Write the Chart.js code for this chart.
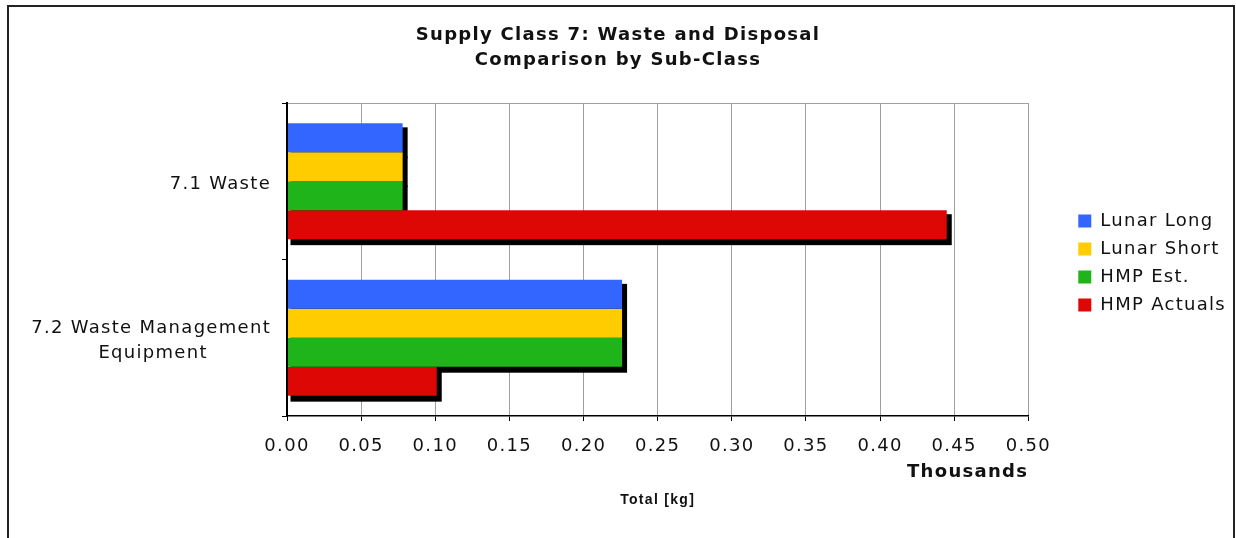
<!DOCTYPE html>
<html>
<head>
<meta charset="utf-8">
<script src="https://cdn.jsdelivr.net/npm/chart.js@4/dist/chart.umd.min.js"></script>
<style>
  html, body { margin:0; padding:0; background:#fff; overflow:hidden; }
  #frame { position:absolute; left:7px; top:5px; width:1224px; height:600px; border:2px solid #222; }
  #c { position:absolute; left:0; top:0; }
</style>
</head>
<body>
<div id="frame"></div>
<canvas id="c" width="1236" height="538"></canvas>
<script>
// ---- data ----
const categories = [['7.1 Waste'], ['7.2 Waste Management', 'Equipment']];
const seriesNames = ['Lunar Long', 'Lunar Short', 'HMP Est.', 'HMP Actuals'];
const lunarLong   = [0.078, 0.226];
const lunarShort  = [0.078, 0.226];
const hmpEst      = [0.078, 0.226];
const hmpActuals  = [0.445, 0.101];
const xTicks = [0, 0.05, 0.10, 0.15, 0.20, 0.25, 0.30, 0.35, 0.40, 0.45, 0.50];
const titleLines = ['Supply Class 7: Waste and Disposal', 'Comparison by Sub-Class'];
const xUnitsLabel = 'Thousands';
const xAxisTitle = 'Total [kg]';

const colors = ['#3366FF', '#FFCC00', '#1FB51A', '#DD0806'];
const LS = '1.3px';
const FAMILY = "'DejaVu Sans', Verdana, sans-serif";

// center shorter lines of a multi-line label by padding with trailing spaces
const mctx = document.createElement('canvas').getContext('2d');
function centerLines(lines) {
  if (lines.length < 2) return lines;
  mctx.font = "18px " + FAMILY;
  try { mctx.letterSpacing = LS; } catch (e) {}
  const w = lines.map(l => mctx.measureText(l).width);
  const maxW = Math.max(...w);
  const sp = mctx.measureText(' ').width;
  return lines.map((l, i) => l + ' '.repeat(Math.round((maxW - w[i]) / 2 / sp)));
}

const spacingPlugin = {
  id: 'spacing',
  beforeUpdate(chart) { chart.ctx.letterSpacing = LS; },
  beforeLayout(chart) { chart.ctx.letterSpacing = LS; },
  beforeDraw(chart) { chart.ctx.letterSpacing = LS; }
};

const shadowPlugin = {
  id: 'barShadow',
  beforeDatasetsDraw(chart) {
    const ctx = chart.ctx;
    ctx.save();
    ctx.fillStyle = '#000';
    chart.getSortedVisibleDatasetMetas().forEach(meta => {
      meta.data.forEach(el => {
        const p = el.getProps(['x', 'y', 'base', 'height'], true);
        const l = Math.min(p.x, p.base), r = Math.max(p.x, p.base);
        ctx.fillRect(l + 3, p.y - p.height / 2 + 4, r - l + 2, p.height + 2);
      });
    });
    ctx.restore();
  }
};

const topBorderPlugin = {
  id: 'topBorder',
  beforeDatasetsDraw(chart) {
    const {ctx, chartArea} = chart;
    ctx.save();
    ctx.strokeStyle = '#a0a0a0';
    ctx.lineWidth = 1;
    ctx.beginPath();
    ctx.moveTo(chartArea.left, chartArea.top + 0.5);
    ctx.lineTo(chartArea.right, chartArea.top + 0.5);
    ctx.stroke();
    ctx.restore();
  }
};

Chart.defaults.font.family = FAMILY;
Chart.defaults.color = '#111';

const seriesData = [lunarLong, lunarShort, hmpEst, hmpActuals];

new Chart(document.getElementById('c'), {
  type: 'bar',
  data: {
    labels: categories,
    datasets: seriesNames.map((name, i) => ({
      label: name,
      data: seriesData[i],
      backgroundColor: colors[i],
      borderWidth: 0,
      xAxisID: 'x',
      yAxisID: 'y',
      categoryPercentage: 0.74,
      barPercentage: 1.0
    }))
  },
  options: {
    indexAxis: 'y',
    responsive: false,
    devicePixelRatio: 1,
    animation: false,
    layout: { padding: { left: 0, right: 0, top: 0, bottom: 28 } },
    plugins: {
      title: {
        display: true,
        text: titleLines,
        color: '#111',
        font: { size: 18, weight: 'bold', lineHeight: 25 / 18 },
        padding: { top: 22.5, bottom: 30.5 }
      },
      legend: {
        position: 'right',
        fullSize: false,
        align: 'center',
        title: { display: true, text: '', padding: 0, font: { size: 6 } },
        labels: {
          boxWidth: 13,
          boxHeight: 13,
          padding: 10,
          color: '#111',
          font: { size: 18 }
        }
      },
      tooltip: { enabled: false }
    },
    scales: {
      x: {
        type: 'linear',
        axis: 'x',
        position: 'bottom',
        min: 0,
        max: 0.5,
        afterBuildTicks: s => { s.ticks = xTicks.map(v => ({ value: v })); },
        ticks: {
          callback: v => Number(v).toFixed(2),
          font: { size: 18 },
          color: '#111',
          padding: 15,
          maxRotation: 0
        },
        grid: { color: '#a0a0a0', lineWidth: 1, tickColor: '#000', tickLength: 5, drawOnChartArea: true },
        border: { color: '#000', width: 1.5, z: 1 },
        title: {
          display: true,
          text: xUnitsLabel,
          align: 'end',
          color: '#111',
          font: { size: 18, weight: 'bold' },
          padding: { top: 0, bottom: 1.2 }
        },
        afterFit: s => { s.height = 68; }
      },
      x2: {
        type: 'linear',
        axis: 'x',
        position: 'bottom',
        weight: 1,
        min: 0,
        max: 1,
        ticks: { display: false },
        grid: { display: false, drawTicks: false },
        border: { display: false },
        title: {
          display: true,
          text: xAxisTitle,
          color: '#111',
          font: { family: "'Liberation Sans', Arial, sans-serif", size: 14, weight: 'bold' },
          padding: { top: 0, bottom: 1 }
        },
        afterFit: s => { s.height = 26; }
      },
      y: {
        type: 'category',
        axis: 'y',
        position: 'left',
        offset: true,
        ticks: {
          callback: function (v, i) { return centerLines(categories[i]); },
          font: { size: 18, lineHeight: 25 / 18 },
          color: '#111',
          padding: 11,
          labelOffset: 3
        },
        grid: { drawOnChartArea: false, tickColor: '#000', tickLength: 5, offset: true },
        border: { color: '#000', width: 2, z: 1 },
        afterFit: s => { s.width = 287; }
      },
      gap: {
        type: 'linear',
        axis: 'y',
        position: 'right',
        display: true,
        ticks: { display: false },
        grid: { display: false, drawTicks: false },
        border: { display: false },
        afterFit: s => { s.width = 40; }
      }
    }
  },
  plugins: [spacingPlugin, shadowPlugin, topBorderPlugin]
});
</script>
</body>
</html>
